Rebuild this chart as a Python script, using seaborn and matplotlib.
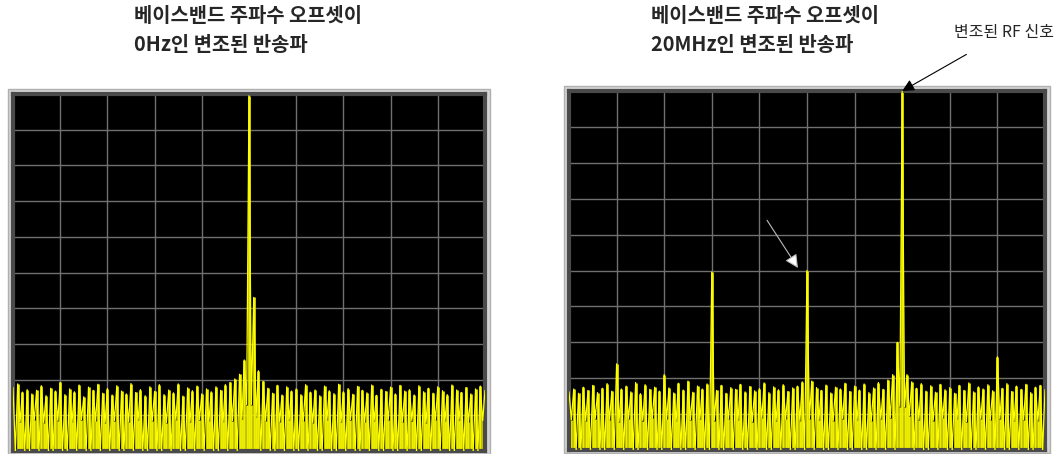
import matplotlib
import matplotlib.pyplot as plt
import numpy as np
import pandas as pd
import seaborn as sns
from matplotlib.patches import Rectangle

matplotlib.use("Agg")

# Spectrum traces, in screen divisions (0 = bottom, 10 = top), 10 divisions wide
left_peaks = [
    1.78, 1.88, 1.65, 1.72, 1.60, 1.70, 1.83, 1.55, 1.76, 1.68,
    1.92, 1.58, 1.74, 1.66, 1.85, 1.52, 1.79, 1.70, 1.87, 1.62,
    1.75, 1.57, 1.83, 1.68, 1.60, 1.89, 1.64, 1.72, 1.55, 1.80,
    1.67, 1.86, 1.58, 1.71, 1.63, 1.88, 1.54, 1.77, 1.69, 1.82,
    1.60, 1.74, 1.66, 1.80, 1.70, 1.86, 1.92, 2.02, 2.15, 2.55,
    9.95, 4.30, 2.25, 1.95, 1.76, 1.62, 1.84, 1.57, 1.80, 1.68,
    1.74, 1.58, 1.86, 1.65, 1.71, 1.55, 1.82, 1.69, 1.61, 1.87,
    1.66, 1.75, 1.59, 1.81, 1.70, 1.63, 1.85, 1.56, 1.73, 1.67,
    1.79, 1.60, 1.84, 1.68, 1.72, 1.57, 1.83, 1.66, 1.76, 1.62,
    1.80, 1.69, 1.58, 1.85, 1.71, 1.64, 1.78, 1.60, 1.74, 1.82, 1.70,
]
left_troughs = [
    0.00, 0.82, 0.00, 0.00, 0.86, 0.00, 0.78, 0.00, 0.00, 0.84,
    0.00, 0.00, 0.80, 0.00, 0.88, 0.00, 0.00, 0.83, 0.00, 0.79,
    0.00, 0.85, 0.00, 0.00, 0.81, 0.00, 0.87, 0.00, 0.00, 0.84,
    0.00, 0.00, 0.79, 0.00, 0.86, 0.00, 0.00, 0.82, 0.00, 0.88,
    0.00, 0.83, 0.00, 0.00, 0.80, 0.00, 0.85, 0.00, 0.90, 1.30,
    1.30, 0.95, 0.00, 0.84, 0.00, 0.00, 0.81, 0.00, 0.87, 0.00,
    0.00, 0.83, 0.00, 0.78, 0.00, 0.00, 0.86, 0.00, 0.00, 0.82,
    0.00, 0.88, 0.00, 0.00, 0.80, 0.00, 0.84, 0.00, 0.00, 0.87,
    0.00, 0.00, 0.81, 0.00, 0.85, 0.00, 0.00, 0.79, 0.00, 0.86,
    0.00, 0.83, 0.00, 0.00, 0.88, 0.00, 0.80, 0.00, 0.00, 0.84,
]
right_peaks = [
    1.62, 1.70, 1.58, 1.75, 1.66, 1.80, 1.60, 1.72, 1.85, 1.64,
    2.40, 1.70, 1.78, 1.62, 1.88, 1.57, 1.82, 1.69, 1.75, 1.64,
    2.10, 1.73, 1.59, 1.86, 1.67, 1.92, 1.61, 1.78, 1.70, 1.84,
    4.96, 1.66, 1.80, 1.58, 1.74, 1.69, 1.83, 1.62, 1.77, 1.65,
    1.71, 1.87, 1.60, 1.76, 1.68, 1.82, 1.63, 1.73, 1.78, 1.90,
    5.00, 1.92, 1.74, 1.66, 1.81, 1.59, 1.75, 1.70, 1.86, 1.63,
    1.78, 1.67, 1.84, 1.60, 1.73, 1.88, 1.69, 1.95, 2.10, 3.00,
    10.0, 2.10, 1.90, 1.72, 1.85, 1.64, 1.79, 1.61, 1.83, 1.68,
    1.74, 1.58, 1.80, 1.66, 1.87, 1.62, 1.76, 1.70, 1.82, 1.65,
    2.60, 1.72, 1.85, 1.63, 1.78, 1.69, 1.83, 1.60, 1.75, 1.80, 1.68,
]
right_troughs = [
    0.84, 0.00, 0.00, 0.81, 0.00, 0.87, 0.00, 0.00, 0.83, 0.00,
    0.79, 0.00, 0.86, 0.00, 0.00, 0.82, 0.00, 0.88, 0.00, 0.00,
    0.85, 0.00, 0.80, 0.00, 0.00, 0.84, 0.00, 0.87, 0.00, 0.00,
    0.81, 0.00, 0.00, 0.86, 0.00, 0.83, 0.00, 0.00, 0.79, 0.00,
    0.88, 0.00, 0.00, 0.82, 0.00, 0.85, 0.00, 0.00, 0.80, 0.00,
    0.86, 0.00, 0.84, 0.00, 0.00, 0.81, 0.00, 0.87, 0.00, 0.00,
    0.83, 0.00, 0.00, 0.80, 0.00, 0.86, 0.00, 0.90, 0.00, 1.20,
    1.20, 0.95, 0.00, 0.84, 0.00, 0.00, 0.82, 0.00, 0.88, 0.00,
    0.00, 0.85, 0.00, 0.79, 0.00, 0.00, 0.86, 0.00, 0.83, 0.00,
    0.87, 0.00, 0.00, 0.81, 0.00, 0.84, 0.00, 0.00, 0.80, 0.00,
]

left_title = "베이스밴드 주파수 오프셋이\n0Hz인 변조된 반송파"
right_title = "베이스밴드 주파수 오프셋이\n20MHz인 변조된 반송파"
rf_label = "변조된 RF 신호"


def trace_frame(peaks, troughs):
    # interleave peaks and troughs along the 10-division sweep
    n = len(peaks)
    step = 10.0 / (n - 1)
    xs, ys = [], []
    for i, p in enumerate(peaks):
        xs.append(i * step)
        ys.append(p)
        if i < len(troughs):
            xs.append((i + 0.5) * step)
            ys.append(troughs[i])
    return pd.DataFrame({"x": xs, "y": ys})


sns.set_style("white")
plt.rcParams["font.family"] = ["Noto Sans CJK KR", "DejaVu Sans"]

fig = plt.figure(figsize=(10.6, 4.54), dpi=100)

panels = [
    (left_peaks, left_troughs, [13 / 1060, 3 / 454, 472 / 1060, 357 / 454]),
    (right_peaks, right_troughs, [569 / 1060, 4 / 454, 476 / 1060, 359 / 454]),
]
axes = []
for peaks, troughs, rect in panels:
    # outer light bezel behind the screen
    fig.patches.append(Rectangle((rect[0] - 5 / 1060, rect[1] - 3 / 454),
                                 rect[2] + 10 / 1060, rect[3] + 8 / 454,
                                 transform=fig.transFigure, facecolor="#d4d4d4",
                                 edgecolor="#b0b0b0", linewidth=1, zorder=-10))
    ax = fig.add_axes(rect, zorder=2)
    ax.set_facecolor("black")
    df = trace_frame(peaks, troughs)
    # filled look: each sample drawn down to the screen bottom
    ax.vlines(df["x"], 0, df["y"], colors="#eeee00", linewidth=1.9, zorder=2)
    sns.lineplot(data=df, x="x", y="y", ax=ax, color="#ffff00", linewidth=0.9,
                 sort=False, estimator=None, zorder=3)
    ax.set_xlim(0, 10)
    ax.set_ylim(0, 10)
    ax.set_xticks(range(11))
    ax.set_yticks(range(11))
    ax.grid(True, color="#707070", linewidth=1)
    ax.set_axisbelow(True)
    ax.tick_params(left=False, bottom=False, labelleft=False, labelbottom=False)
    ax.set_xlabel("")
    ax.set_ylabel("")
    for s in ax.spines.values():
        s.set_color("#4a4a4a")
        s.set_linewidth(3)
    axes.append(ax)

fig.text(134 / 1060, 1 - 5 / 454, left_title, ha="left", va="top",
         fontsize=14.3, fontweight="bold", linespacing=1.45)
fig.text(651 / 1060, 1 - 5 / 454, right_title, ha="left", va="top",
         fontsize=14.3, fontweight="bold", linespacing=1.45)

# label for the modulated RF carrier
axes[1].annotate(rf_label, xy=(7.0, 10.0), xycoords="data",
                 xytext=(1004 / 1060, 1 - 33 / 454), textcoords="figure fraction",
                 ha="center", va="center", fontsize=11.5, annotation_clip=False,
                 arrowprops=dict(arrowstyle="-|>", color="black", lw=0.8,
                                 mutation_scale=18, shrinkA=14, shrinkB=0))

# white pointer inside the right screen
axes[1].annotate("", xy=(4.81, 5.07), xytext=(4.16, 6.4),
                 arrowprops=dict(arrowstyle="-|>", facecolor="white",
                                 edgecolor="#bbbbbb", lw=0.8,
                                 mutation_scale=20, shrinkA=0, shrinkB=0))

plt.savefig("out.png", dpi=100)
plt.close()
